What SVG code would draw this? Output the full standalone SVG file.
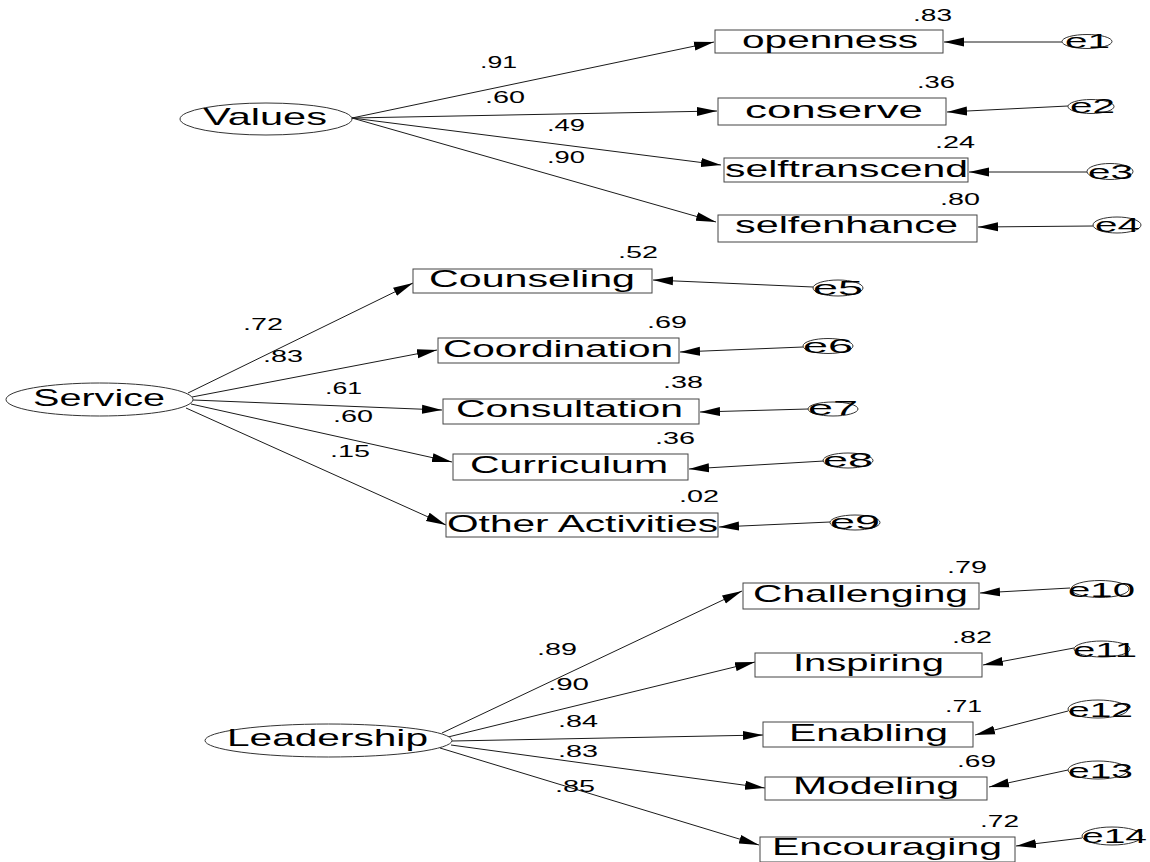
<svg xmlns="http://www.w3.org/2000/svg" width="1150" height="862" viewBox="0 0 1150 862">
  <style>
    .bg { fill: #ffffff; }
    .obs { fill: #ffffff; stroke: #444444; stroke-width: 1; }
    .lat { fill: #ffffff; stroke: #333333; stroke-width: 1; }
    .err { fill: none; stroke: #333333; stroke-width: 1; }
    .lbl { font-family: "Liberation Sans", Arial, sans-serif; font-size: 24px; fill: #000000; }
    .num { font-family: "Liberation Sans", Arial, sans-serif; font-size: 16px; fill: #000000; }
    .etx { font-family: "Liberation Sans", Arial, sans-serif; font-size: 21px; fill: #000000; }
    .conn line { stroke: #1a1a1a; stroke-width: 1; marker-end: url(#arrow); }
  </style>
  <defs>
    <marker id="arrow" viewBox="0 0 20 10" refX="20" refY="5" markerWidth="20" markerHeight="10" markerUnits="userSpaceOnUse" orient="auto">
      <path d="M0,0.5 L20,5 L0,9.5 Z" fill="#000000"/>
    </marker>
  </defs>
  <rect class="bg" x="0" y="0" width="1150" height="862"/>

  <!-- paths: factor loadings and error terms -->
  <g id="connectors" class="conn">
    <line x1="352" y1="118" x2="714" y2="42"/>
    <line x1="352" y1="118" x2="717" y2="111"/>
    <line x1="352" y1="118" x2="721" y2="165"/>
    <line x1="352" y1="118" x2="716" y2="222"/>
    <line x1="1062" y1="42" x2="944" y2="42"/>
    <line x1="1068" y1="106" x2="947" y2="112"/>
    <line x1="1087" y1="172" x2="969" y2="172"/>
    <line x1="1093" y1="226" x2="978" y2="227"/>

    <line x1="188" y1="393" x2="413" y2="283"/>
    <line x1="192" y1="397" x2="437" y2="350"/>
    <line x1="193" y1="400" x2="442" y2="410"/>
    <line x1="191" y1="404" x2="452" y2="462"/>
    <line x1="186" y1="408" x2="446" y2="525"/>
    <line x1="813" y1="287" x2="653" y2="280"/>
    <line x1="803" y1="347" x2="680" y2="352"/>
    <line x1="808" y1="409" x2="700" y2="412"/>
    <line x1="824" y1="461" x2="689" y2="469"/>
    <line x1="830" y1="522" x2="719" y2="527"/>

    <line x1="442" y1="733" x2="742" y2="591"/>
    <line x1="448" y1="737" x2="755" y2="662"/>
    <line x1="452" y1="741" x2="763" y2="735"/>
    <line x1="451" y1="745" x2="765" y2="788"/>
    <line x1="440" y1="748" x2="759" y2="845"/>
    <line x1="1070" y1="588" x2="980" y2="593"/>
    <line x1="1074" y1="648" x2="983" y2="665"/>
    <line x1="1068" y1="711" x2="975" y2="735"/>
    <line x1="1068" y1="770" x2="989" y2="787"/>
    <line x1="1082" y1="838" x2="1016" y2="846"/>
  </g>

  <!-- loading and R² labels -->
  <g id="estimates">
    <text class="num" x="480" y="68" textLength="37" lengthAdjust="spacingAndGlyphs">.91</text>
    <text class="num" x="485" y="103" textLength="40" lengthAdjust="spacingAndGlyphs">.60</text>
    <text class="num" x="547" y="131" textLength="38" lengthAdjust="spacingAndGlyphs">.49</text>
    <text class="num" x="547" y="163" textLength="38" lengthAdjust="spacingAndGlyphs">.90</text>
    <text class="num" x="913" y="21" textLength="39" lengthAdjust="spacingAndGlyphs">.83</text>
    <text class="num" x="917" y="88" textLength="38" lengthAdjust="spacingAndGlyphs">.36</text>
    <text class="num" x="935" y="148" textLength="40" lengthAdjust="spacingAndGlyphs">.24</text>
    <text class="num" x="940" y="205" textLength="40" lengthAdjust="spacingAndGlyphs">.80</text>

    <text class="num" x="243" y="330" textLength="40" lengthAdjust="spacingAndGlyphs">.72</text>
    <text class="num" x="263" y="362" textLength="40" lengthAdjust="spacingAndGlyphs">.83</text>
    <text class="num" x="325" y="394" textLength="37" lengthAdjust="spacingAndGlyphs">.61</text>
    <text class="num" x="333" y="422" textLength="40" lengthAdjust="spacingAndGlyphs">.60</text>
    <text class="num" x="330" y="457" textLength="40" lengthAdjust="spacingAndGlyphs">.15</text>
    <text class="num" x="618" y="258" textLength="40" lengthAdjust="spacingAndGlyphs">.52</text>
    <text class="num" x="647" y="328" textLength="40" lengthAdjust="spacingAndGlyphs">.69</text>
    <text class="num" x="663" y="388" textLength="40" lengthAdjust="spacingAndGlyphs">.38</text>
    <text class="num" x="655" y="444" textLength="40" lengthAdjust="spacingAndGlyphs">.36</text>
    <text class="num" x="679" y="502" textLength="40" lengthAdjust="spacingAndGlyphs">.02</text>

    <text class="num" x="537" y="655" textLength="40" lengthAdjust="spacingAndGlyphs">.89</text>
    <text class="num" x="548" y="690" textLength="41" lengthAdjust="spacingAndGlyphs">.90</text>
    <text class="num" x="558" y="727" textLength="40" lengthAdjust="spacingAndGlyphs">.84</text>
    <text class="num" x="558" y="757" textLength="40" lengthAdjust="spacingAndGlyphs">.83</text>
    <text class="num" x="555" y="792" textLength="40" lengthAdjust="spacingAndGlyphs">.85</text>
    <text class="num" x="947" y="573" textLength="40" lengthAdjust="spacingAndGlyphs">.79</text>
    <text class="num" x="952" y="643" textLength="40" lengthAdjust="spacingAndGlyphs">.82</text>
    <text class="num" x="945" y="712" textLength="37" lengthAdjust="spacingAndGlyphs">.71</text>
    <text class="num" x="957" y="767" textLength="39" lengthAdjust="spacingAndGlyphs">.69</text>
    <text class="num" x="980" y="827" textLength="39" lengthAdjust="spacingAndGlyphs">.72</text>
  </g>

  <!-- latent factors -->
  <g id="Values">
    <ellipse class="lat" cx="266" cy="119" rx="86" ry="16"/>
    <text class="lbl" x="203" y="125" textLength="124" lengthAdjust="spacingAndGlyphs">Values</text>
  </g>
  <g id="Service">
    <ellipse class="lat" cx="99.5" cy="399.5" rx="93.5" ry="16.5"/>
    <text class="lbl" x="33" y="406" textLength="132" lengthAdjust="spacingAndGlyphs">Service</text>
  </g>
  <g id="Leadership">
    <ellipse class="lat" cx="328.5" cy="740.5" rx="123.5" ry="16.5"/>
    <text class="lbl" x="227" y="746" textLength="201" lengthAdjust="spacingAndGlyphs">Leadership</text>
  </g>

  <!-- observed indicators -->
  <g id="openness">
    <rect class="obs" x="715" y="30" width="228" height="23"/>
    <text class="lbl" x="742" y="48" textLength="176" lengthAdjust="spacingAndGlyphs">openness</text>
  </g>
  <g id="conserve">
    <rect class="obs" x="718" y="98" width="228" height="27"/>
    <text class="lbl" x="745" y="118" textLength="178" lengthAdjust="spacingAndGlyphs">conserve</text>
  </g>
  <g id="selftranscend">
    <rect class="obs" x="724" y="158" width="244" height="24"/>
    <text class="lbl" x="725" y="177" textLength="243" lengthAdjust="spacingAndGlyphs">selftranscend</text>
  </g>
  <g id="selfenhance">
    <rect class="obs" x="718" y="215" width="259" height="27"/>
    <text class="lbl" x="735" y="233" textLength="223" lengthAdjust="spacingAndGlyphs">selfenhance</text>
  </g>

  <g id="Counseling">
    <rect class="obs" x="413" y="269" width="239" height="24"/>
    <text class="lbl" x="429" y="287" textLength="206" lengthAdjust="spacingAndGlyphs">Counseling</text>
  </g>
  <g id="Coordination">
    <rect class="obs" x="438" y="338" width="241" height="25"/>
    <text class="lbl" x="443" y="357" textLength="230" lengthAdjust="spacingAndGlyphs">Coordination</text>
  </g>
  <g id="Consultation">
    <rect class="obs" x="443" y="399" width="256" height="25"/>
    <text class="lbl" x="456" y="417" textLength="227" lengthAdjust="spacingAndGlyphs">Consultation</text>
  </g>
  <g id="Curriculum">
    <rect class="obs" x="453" y="454" width="235" height="26"/>
    <text class="lbl" x="470" y="473" textLength="198" lengthAdjust="spacingAndGlyphs">Curriculum</text>
  </g>
  <g id="OtherActivities">
    <rect class="obs" x="446" y="513" width="272" height="24"/>
    <text class="lbl" x="447" y="532" textLength="271" lengthAdjust="spacingAndGlyphs">Other Activities</text>
  </g>

  <g id="Challenging">
    <rect class="obs" x="743" y="583" width="236" height="26"/>
    <text class="lbl" x="753" y="602" textLength="215" lengthAdjust="spacingAndGlyphs">Challenging</text>
  </g>
  <g id="Inspiring">
    <rect class="obs" x="755" y="653" width="227" height="24"/>
    <text class="lbl" x="793" y="671" textLength="151" lengthAdjust="spacingAndGlyphs">Inspiring</text>
  </g>
  <g id="Enabling">
    <rect class="obs" x="763" y="722" width="210" height="25"/>
    <text class="lbl" x="789" y="741" textLength="159" lengthAdjust="spacingAndGlyphs">Enabling</text>
  </g>
  <g id="Modeling">
    <rect class="obs" x="765" y="777" width="222" height="23"/>
    <text class="lbl" x="793" y="794" textLength="166" lengthAdjust="spacingAndGlyphs">Modeling</text>
  </g>
  <g id="Encouraging">
    <rect class="obs" x="760" y="837" width="255" height="25"/>
    <text class="lbl" x="772" y="855" textLength="230" lengthAdjust="spacingAndGlyphs">Encouraging</text>
  </g>

  <!-- error terms -->
  <g id="e1"><ellipse class="err" cx="1087" cy="41.5" rx="25" ry="7"/><text class="etx" x="1065" y="48" textLength="45" lengthAdjust="spacingAndGlyphs">e1</text></g>
  <g id="e2"><ellipse class="err" cx="1091" cy="106.5" rx="23" ry="7"/><text class="etx" x="1070" y="113" textLength="45" lengthAdjust="spacingAndGlyphs">e2</text></g>
  <g id="e3"><ellipse class="err" cx="1110" cy="171.5" rx="23" ry="8"/><text class="etx" x="1088" y="179" textLength="45" lengthAdjust="spacingAndGlyphs">e3</text></g>
  <g id="e4"><ellipse class="err" cx="1117" cy="225" rx="24" ry="8"/><text class="etx" x="1095" y="232" textLength="45" lengthAdjust="spacingAndGlyphs">e4</text></g>

  <g id="e5"><ellipse class="err" cx="838" cy="288" rx="25" ry="8"/><text class="etx" x="813" y="295" textLength="50" lengthAdjust="spacingAndGlyphs">e5</text></g>
  <g id="e6"><ellipse class="err" cx="828" cy="346" rx="25" ry="7.5"/><text class="etx" x="803" y="353" textLength="50" lengthAdjust="spacingAndGlyphs">e6</text></g>
  <g id="e7"><ellipse class="err" cx="833" cy="409" rx="25" ry="7"/><text class="etx" x="808" y="415" textLength="50" lengthAdjust="spacingAndGlyphs">e7</text></g>
  <g id="e8"><ellipse class="err" cx="848" cy="460.5" rx="25" ry="7.5"/><text class="etx" x="823" y="467" textLength="50" lengthAdjust="spacingAndGlyphs">e8</text></g>
  <g id="e9"><ellipse class="err" cx="855" cy="522.5" rx="25" ry="7.5"/><text class="etx" x="830" y="529" textLength="50" lengthAdjust="spacingAndGlyphs">e9</text></g>

  <g id="e10"><ellipse class="err" cx="1100" cy="589" rx="29" ry="8.5"/><text class="etx" x="1068" y="597" textLength="67" lengthAdjust="spacingAndGlyphs">e10</text></g>
  <g id="e11"><ellipse class="err" cx="1102" cy="649" rx="28" ry="8"/><text class="etx" x="1073" y="657" textLength="64" lengthAdjust="spacingAndGlyphs">e11</text></g>
  <g id="e12"><ellipse class="err" cx="1098" cy="709" rx="30" ry="9"/><text class="etx" x="1068" y="717" textLength="65" lengthAdjust="spacingAndGlyphs">e12</text></g>
  <g id="e13"><ellipse class="err" cx="1098" cy="770" rx="30" ry="9"/><text class="etx" x="1068" y="778" textLength="65" lengthAdjust="spacingAndGlyphs">e13</text></g>
  <g id="e14"><ellipse class="err" cx="1112" cy="836" rx="30" ry="9"/><text class="etx" x="1082" y="843" textLength="65" lengthAdjust="spacingAndGlyphs">e14</text></g>
</svg>
